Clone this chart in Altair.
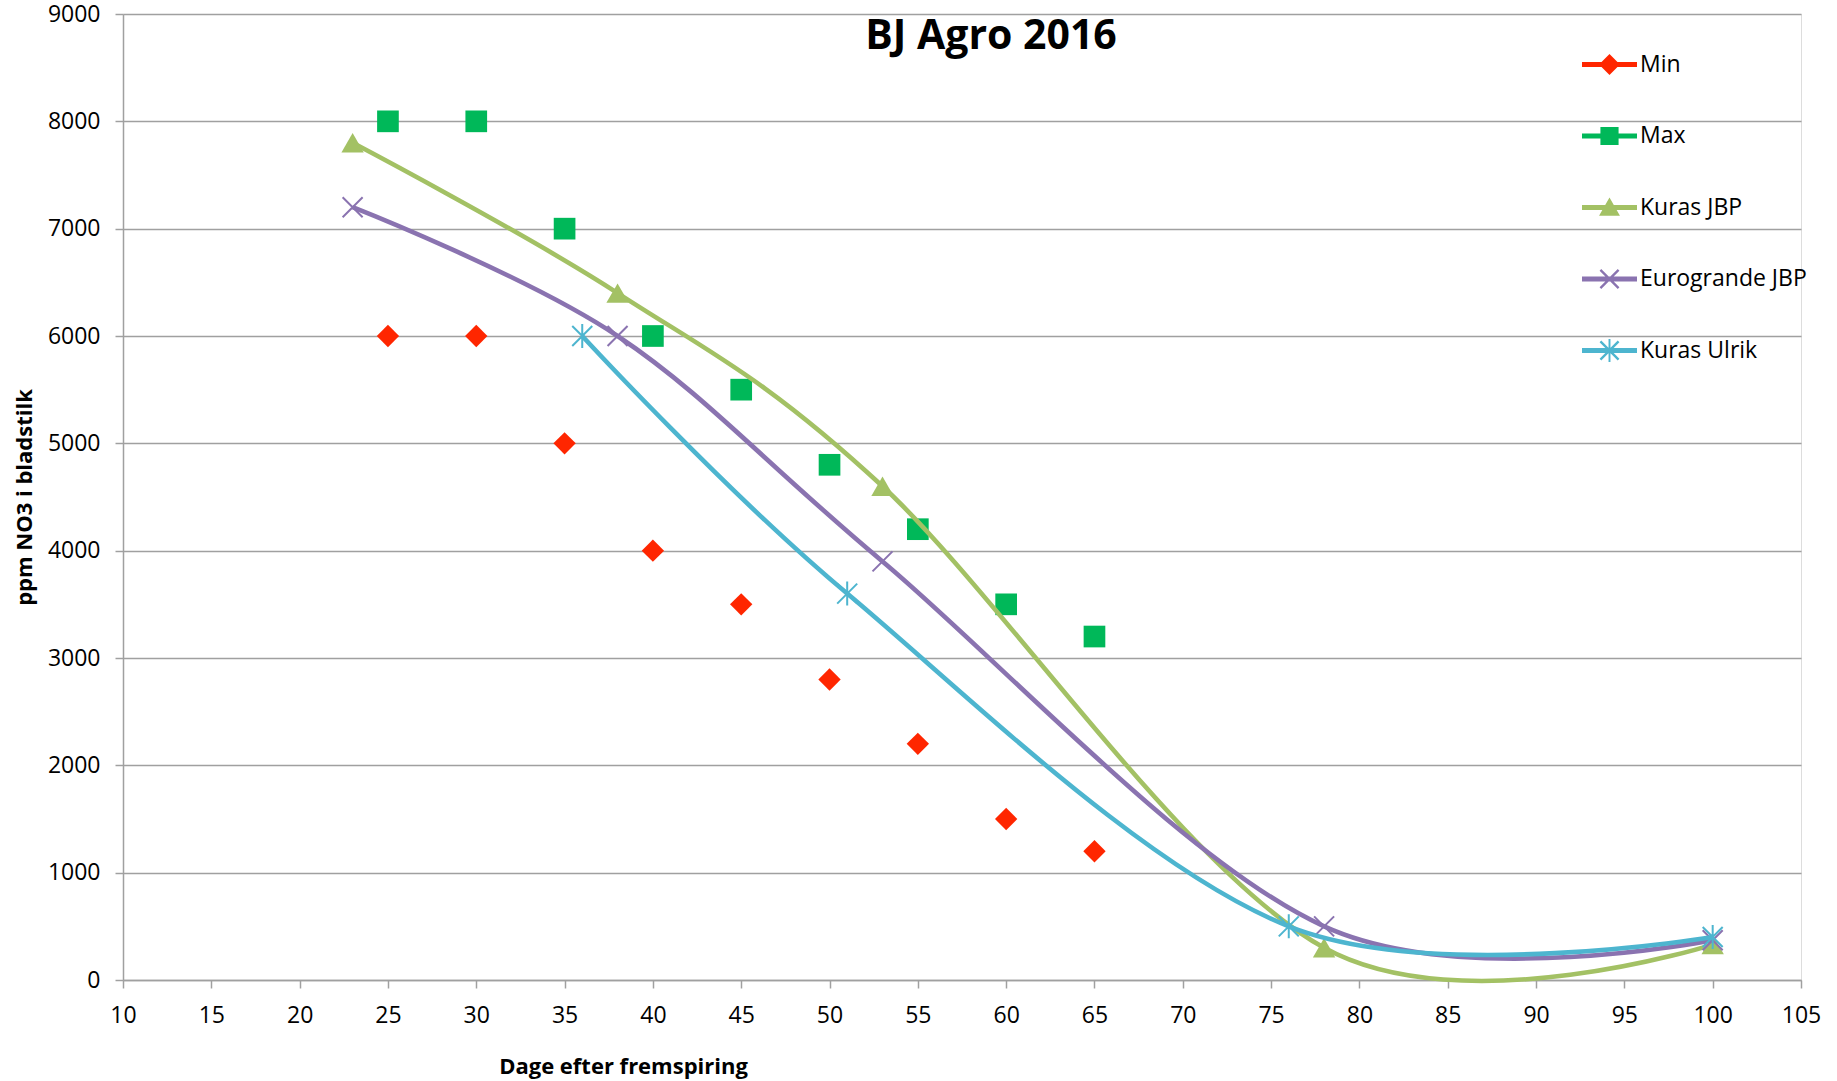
import altair as alt
import pandas as pd

# ---------------- data ----------------
SERIES = ["Min", "Max", "Kuras JBP", "Eurogrande JBP", "Kuras Ulrik"]
COLORS = ["#FF2600", "#00B859", "#A3C164", "#8A73B0", "#4DB5CF"]

MIN_DAYS = [25, 30, 35, 40, 45, 50, 55, 60, 65]
MIN_PPM = [6000, 6000, 5000, 4000, 3500, 2800, 2200, 1500, 1200]
MAX_DAYS = [25, 30, 35, 40, 45, 50, 55, 60, 65]
MAX_PPM = [8000, 8000, 7000, 6000, 5500, 4800, 4200, 3500, 3200]
KURAS_JBP_DAYS = [23, 38, 53, 78, 100]
KURAS_JBP_PPM = [7800, 6400, 4600, 300, 330]
EUROGRANDE_DAYS = [23, 38, 53, 78, 100]
EUROGRANDE_PPM = [7200, 6000, 3900, 500, 370]
ULRIK_DAYS = [36, 51, 76, 100]
ULRIK_PPM = [6000, 3600, 500, 400]

X_TICKS = list(range(10, 106, 5))
Y_TICKS = list(range(0, 9001, 1000))

TITLE = "BJ Agro 2016"
X_TITLE = "Dage efter fremspiring"
Y_TITLE = "ppm NO3 i bladstilk"

# ---------------- table ----------------
rows = []
for name, xs, ys in [
    ("Min", MIN_DAYS, MIN_PPM),
    ("Max", MAX_DAYS, MAX_PPM),
    ("Kuras JBP", KURAS_JBP_DAYS, KURAS_JBP_PPM),
    ("Eurogrande JBP", EUROGRANDE_DAYS, EUROGRANDE_PPM),
    ("Kuras Ulrik", ULRIK_DAYS, ULRIK_PPM),
]:
    for xv, yv in zip(xs, ys):
        rows.append({"series": name, "day": xv, "ppm": yv})
df = pd.DataFrame(rows)

FONT = "Open Sans"
AXIS_GRAY = "#A0A0A0"

# marker shapes (unit coordinates)
X_PATH = "M-1,-1L1,1M-1,1L1,-1"
STAR_PATH = "M-1,-1L1,1M-1,1L1,-1M0,-1.2L0,1.2"

# legend symbols: line + marker, all as filled areas
LINE_P = "M-1,-0.09L1,-0.09L1,0.09L-1,0.09Z"
LEG_DIAMOND = LINE_P + "M0,-0.38L0.38,0L0,0.38L-0.38,0Z"
LEG_SQUARE = LINE_P + "M-0.33,-0.33L0.33,-0.33L0.33,0.33L-0.33,0.33Z"
LEG_TRI = LINE_P + "M0,-0.36L0.38,0.3L-0.38,0.3Z"
BAR1 = "M-0.30,-0.36L0.36,0.30L0.30,0.36L-0.36,-0.30Z"
BAR2 = "M-0.36,0.30L0.30,-0.36L0.36,-0.30L-0.30,0.36Z"
VBAR = "M-0.035,-0.42L0.035,-0.42L0.035,0.42L-0.035,0.42Z"
LEG_X = LINE_P + BAR1 + BAR2
LEG_STAR = LINE_P + BAR1 + BAR2 + VBAR
LEGEND_SHAPES = [LEG_DIAMOND, LEG_SQUARE, LEG_TRI, LEG_X, LEG_STAR]

x_enc = alt.X(
    "day:Q",
    scale=alt.Scale(domain=[10, 105], nice=False, zero=False),
    axis=alt.Axis(
        values=X_TICKS,
        title=X_TITLE,
        grid=False,
        format="d",
        labelFlush=False,
        domainColor=AXIS_GRAY,
        domainWidth=1.5,
        tickColor=AXIS_GRAY,
        tickWidth=1.5,
        tickSize=8,
        labelFont=FONT,
        labelFontSize=23,
        labelColor="black",
        labelPadding=16,
        titleFont=FONT,
        titleFontSize=22,
        titleFontWeight="bold",
        titleColor="black",
        titleX=500,
        titleY=86,
        titleAlign="center",
        titleBaseline="middle",
        titleAnchor="start",
    ),
)
y_enc = alt.Y(
    "ppm:Q",
    scale=alt.Scale(domain=[0, 9000], nice=False),
    axis=alt.Axis(
        values=Y_TICKS,
        title=Y_TITLE,
        grid=True,
        format="d",
        labelFlush=False,
        gridColor=AXIS_GRAY,
        gridWidth=1.4,
        domainColor=AXIS_GRAY,
        domainWidth=1.5,
        tickColor=AXIS_GRAY,
        tickWidth=1.5,
        tickSize=8,
        labelFont=FONT,
        labelFontSize=23,
        labelColor="black",
        labelPadding=15,
        titleFont=FONT,
        titleFontSize=22,
        titleFontWeight="bold",
        titleColor="black",
        titleX=-99,
        titleY=483,
        titleAngle=270,
        titleAlign="center",
        titleBaseline="middle",
        titleAnchor="start",
    ),
)

base = alt.Chart(df)


def only(name):
    return alt.datum.series == name


layers = []
# Min / Max: markers only
layers.append(
    base.transform_filter(only("Min")).mark_point(
        shape="diamond", filled=True, size=500, color=COLORS[0], opacity=1, strokeWidth=0
    ).encode(x=x_enc, y=y_enc)
)
layers.append(
    base.transform_filter(only("Max")).mark_point(
        shape="square", filled=True, size=470, color=COLORS[1], opacity=1, strokeWidth=0
    ).encode(x=x_enc, y=y_enc)
)
# smoothed lines with markers
line_specs = [
    ("Kuras JBP", COLORS[2], "triangle-up", True, 500),
    ("Eurogrande JBP", COLORS[3], X_PATH, False, 400),
    ("Kuras Ulrik", COLORS[4], STAR_PATH, False, 400),
]
for name, col, shp, filled, sz in line_specs:
    layers.append(
        base.transform_filter(only(name)).mark_line(
            interpolate="cardinal", color=col, strokeWidth=4.6
        ).encode(x=x_enc, y=y_enc)
    )
    if filled:
        layers.append(
            base.transform_filter(only(name)).mark_point(
                shape=shp, filled=True, size=sz, color=col, opacity=1, strokeWidth=0
            ).encode(x=x_enc, y=y_enc)
        )
    else:
        layers.append(
            base.transform_filter(only(name)).mark_point(
                shape=shp, filled=False, size=sz, color=col, opacity=1, strokeWidth=2
            ).encode(x=x_enc, y=y_enc)
        )

legend = alt.Legend(
    title=None,
    orient="none",
    legendX=1459,
    legendY=23,
    symbolSize=3025,
    symbolStrokeWidth=0,
    symbolOpacity=1,
    labelFont=FONT,
    labelFontSize=23,
    labelColor="black",
    labelOffset=3,
    labelLimit=0,
    rowPadding=31.5,
    padding=0,
)
layers.append(
    base.transform_filter("false").mark_point(filled=True, opacity=1, size=3025).encode(
        x=x_enc,
        y=y_enc,
        color=alt.Color("series:N", scale=alt.Scale(domain=SERIES, range=COLORS), legend=legend),
        shape=alt.Shape("series:N", scale=alt.Scale(domain=SERIES, range=LEGEND_SHAPES), legend=legend),
    )
)

chart = (
    alt.layer(*layers)
    .properties(
        width=1678,
        height=966,
        autosize=alt.AutoSizeParams(type="none"),
        padding={"left": 123, "top": 14, "right": 36, "bottom": 101},
        title=alt.TitleParams(
            TITLE,
            font=FONT,
            fontSize=41,
            fontWeight="bold",
            color="black",
            anchor="middle",
            dx=29,
            offset=-55,
            baseline="top",
        ),
    )
    .configure_view(stroke=None)
    .configure(background="white")
)

chart.save("out.html", embed_options={"renderer": "svg", "actions": False})
